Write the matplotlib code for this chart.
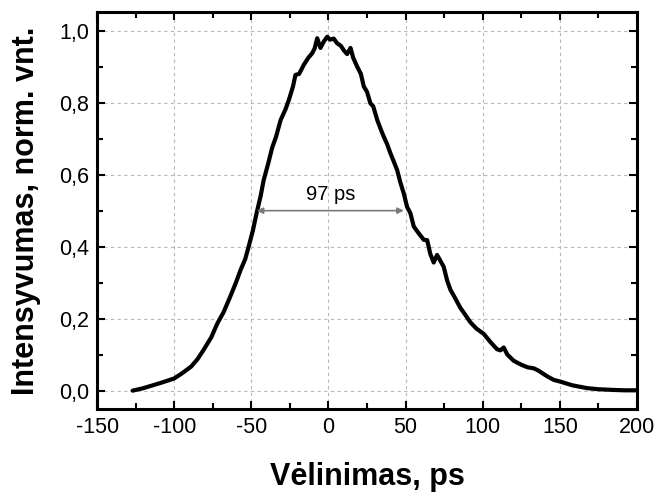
import matplotlib
matplotlib.use('Agg')
import matplotlib.pyplot as plt
from matplotlib.ticker import MultipleLocator, FuncFormatter

plt.rcParams['font.family'] = ['Liberation Sans', 'DejaVu Sans']
plt.rcParams['axes.unicode_minus'] = False

# autocorrelation trace
delay = [-127, -120, -113, -107, -100, -95, -89, -85, -81, -76, -72, -68, -64, -60,
         -57, -54, -52, -49, -46.5, -44, -42, -39, -36.5, -34, -31, -28, -25.7, -23,
         -21.4, -19, -16, -13, -10.6, -9, -7.3, -5.2, -3, -0.8, 1, 3.4, 5.6, 8, 10,
         12.1, 14.3, 16, 18.6, 21, 22.9, 25, 27.2, 29, 31.6, 34, 35.8, 38, 40.2, 42,
         44.5, 46.5, 48.8, 51, 53.1, 55.3, 58, 61.8, 64, 66, 68.2, 70.4, 72, 74.7, 77,
         79.1, 82, 85.5, 88, 92, 96, 100.6, 105, 109.3, 111.5, 113.6, 116, 120.1, 125,
         129, 133.1, 136, 141.7, 146, 150.4, 158, 167.7, 175, 184.9, 192, 200]
intensity = [0.000, 0.007, 0.016, 0.024, 0.034, 0.048, 0.067, 0.087, 0.113, 0.148,
             0.187, 0.218, 0.258, 0.300, 0.335, 0.365, 0.396, 0.445, 0.495, 0.540,
             0.585, 0.632, 0.675, 0.705, 0.752, 0.780, 0.807, 0.845, 0.877, 0.880,
             0.905, 0.925, 0.937, 0.950, 0.979, 0.952, 0.970, 0.983, 0.975, 0.978,
             0.965, 0.958, 0.945, 0.935, 0.952, 0.925, 0.900, 0.880, 0.845, 0.830,
             0.798, 0.790, 0.752, 0.725, 0.706, 0.685, 0.659, 0.640, 0.613, 0.580,
             0.548, 0.510, 0.493, 0.456, 0.440, 0.419, 0.418, 0.380, 0.356, 0.377,
             0.365, 0.344, 0.305, 0.280, 0.258, 0.230, 0.215, 0.190, 0.172, 0.158,
             0.135, 0.115, 0.112, 0.120, 0.100, 0.083, 0.072, 0.065, 0.062, 0.056,
             0.040, 0.030, 0.025, 0.015, 0.007, 0.004, 0.002, 0.001, 0.001]

fwhm_left = -46.5
fwhm_right = 48.8
fwhm_label = '97 ps'

fig = plt.figure(figsize=(6.56, 4.97), dpi=100, facecolor='white')
ax = fig.add_axes([0.148, 0.177, 0.823, 0.799])

ax.plot(delay, intensity, color='black', linewidth=3.0,
        solid_capstyle='round', solid_joinstyle='round')

ax.annotate('', xy=(fwhm_left, 0.5), xytext=(fwhm_right, 0.5),
            arrowprops=dict(arrowstyle='<|-|>', color='#7a7a7a', lw=1.2,
                            mutation_scale=9, shrinkA=0, shrinkB=0))
ax.text((fwhm_left + fwhm_right) / 2, 0.545, fwhm_label, ha='center', va='center',
        fontsize=14.5)

ax.set_xlim(-150, 200)
ax.set_ylim(-0.051, 1.052)
ax.xaxis.set_major_locator(MultipleLocator(50))
ax.xaxis.set_minor_locator(MultipleLocator(25))
ax.yaxis.set_major_locator(MultipleLocator(0.2))
ax.yaxis.set_minor_locator(MultipleLocator(0.1))
ax.yaxis.set_major_formatter(FuncFormatter(lambda v, p: ('%.1f' % v).replace('.', ',')))

ax.grid(True, which='major', color='#b8b8b8', linestyle=(0, (3, 3)), linewidth=0.8)
ax.tick_params(which='both', direction='in', top=True, right=True, labelsize=15.5,
               width=1.5, pad=6)
ax.tick_params(which='major', length=6)
ax.tick_params(which='minor', length=4)
for s in ax.spines.values():
    s.set_linewidth(2.2)

ax.set_xlabel('Vėlinimas, ps', fontsize=22, fontweight='bold', labelpad=17)
ax.set_ylabel('Intensyvumas, norm. vnt.', fontsize=22, fontweight='bold', labelpad=13)

plt.savefig('out.png', dpi=100)
